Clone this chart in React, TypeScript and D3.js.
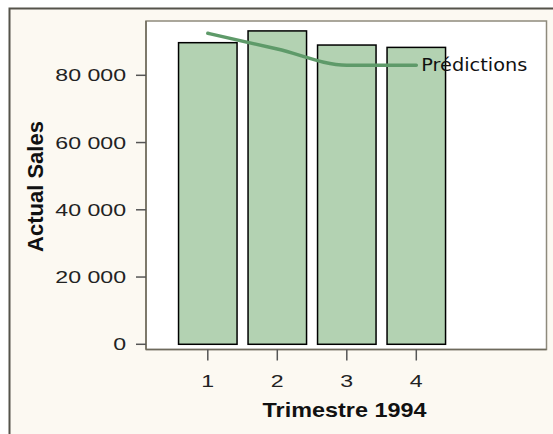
import React from "react";
import * as d3 from "d3";

const categories = [1, 2, 3, 4];
const actualSales = [89700, 93200, 89000, 88300];
const predictions = [92500, 87800, 83000, 83000];
const yTicks = [0, 20000, 40000, 60000, 80000];
const yTickLabels = ["0", "20 000", "40 000", "60 000", "80 000"];
const xTickLabels = ["1", "2", "3", "4"];
const seriesLabel = "Prédictions";
const xTitle = "Trimestre 1994";
const yTitle = "Actual Sales";

const W = 553;
const H = 434;
const plot = { left: 146, top: 21, right: 546.5, bottom: 349.5 };
const SX = 1.36;

export default function App() {
  const y = d3.scaleLinear().domain([-1550, 96150]).range([plot.bottom, plot.top]);
  const x = d3.scaleLinear().domain([1, 4]).range([207.8, 416.3]);
  const barW = 58.5;
  const line = d3
    .line<number>()
    .x((_, i) => x(categories[i]))
    .y((d) => y(d))
    .curve(d3.curveMonotoneX);
  const lastX = x(categories[categories.length - 1]);
  const lastY = y(predictions[predictions.length - 1]);
  const tickFont = { fontFamily: "Liberation Sans", fontSize: 17, fill: "#222" };
  return (
    <svg width={W} height={H} style={{ position: "absolute", left: 0, top: 0 }}>
      <rect x={0} y={0} width={W} height={H} fill="#ffffff" />
      <rect x={9.5} y={8.5} width={W + 10} height={H + 10} fill="#FCF9F2" stroke="#55534A" strokeWidth={2} />
      <rect x={plot.left} y={plot.top} width={plot.right - plot.left} height={plot.bottom - plot.top} fill="#ffffff" stroke="#8E8A7C" strokeWidth={1.5} />
      <line x1={plot.left} x2={plot.left} y1={plot.top} y2={plot.bottom} stroke="#6E6A5C" strokeWidth={1.5} />
      <line x1={plot.left} x2={plot.right} y1={plot.bottom} y2={plot.bottom} stroke="#6E6A5C" strokeWidth={1.5} />
      {actualSales.map((v, i) => (
        <rect key={i} x={x(categories[i]) - barW / 2} y={y(v)} width={barW} height={y(0) - y(v)} fill="#B3D2B2" stroke="#000" strokeWidth={1.5} />
      ))}
      <path d={line(predictions) || ""} fill="none" stroke="#5E9A69" strokeWidth={3.5} strokeLinecap="round" />
      <text x={lastX + 5} y={lastY + 6} fontFamily="DejaVu Sans" fontSize={17} fill="#111" textLength={106} lengthAdjust="spacingAndGlyphs">{seriesLabel}</text>
      {yTicks.map((t, i) => (
        <g key={t}>
          <line x1={plot.left - 10} x2={plot.left} y1={y(t)} y2={y(t)} stroke="#555" strokeWidth={1.5} />
          <text transform={`translate(126,${y(t) + 6}) scale(${SX},1)`} textAnchor="end" {...tickFont}>{yTickLabels[i]}</text>
        </g>
      ))}
      {categories.map((c, i) => (
        <g key={c}>
          <line x1={x(c)} x2={x(c)} y1={plot.bottom} y2={plot.bottom + 11} stroke="#555" strokeWidth={1.5} />
          <text transform={`translate(${x(c)},387) scale(${SX},1)`} textAnchor="middle" {...tickFont}>{xTickLabels[i]}</text>
        </g>
      ))}
      <text transform={`translate(${(262 + 427) / 2},417) scale(1.17,1)`} textAnchor="middle" fontFamily="Liberation Sans" fontWeight="bold" fontSize={20} fill="#111">{xTitle}</text>
      <text transform={`translate(43,186.5) rotate(-90)`} textAnchor="middle" fontFamily="Liberation Sans" fontWeight="bold" fontSize={22} fill="#111">{yTitle}</text>
    </svg>
  );
}
